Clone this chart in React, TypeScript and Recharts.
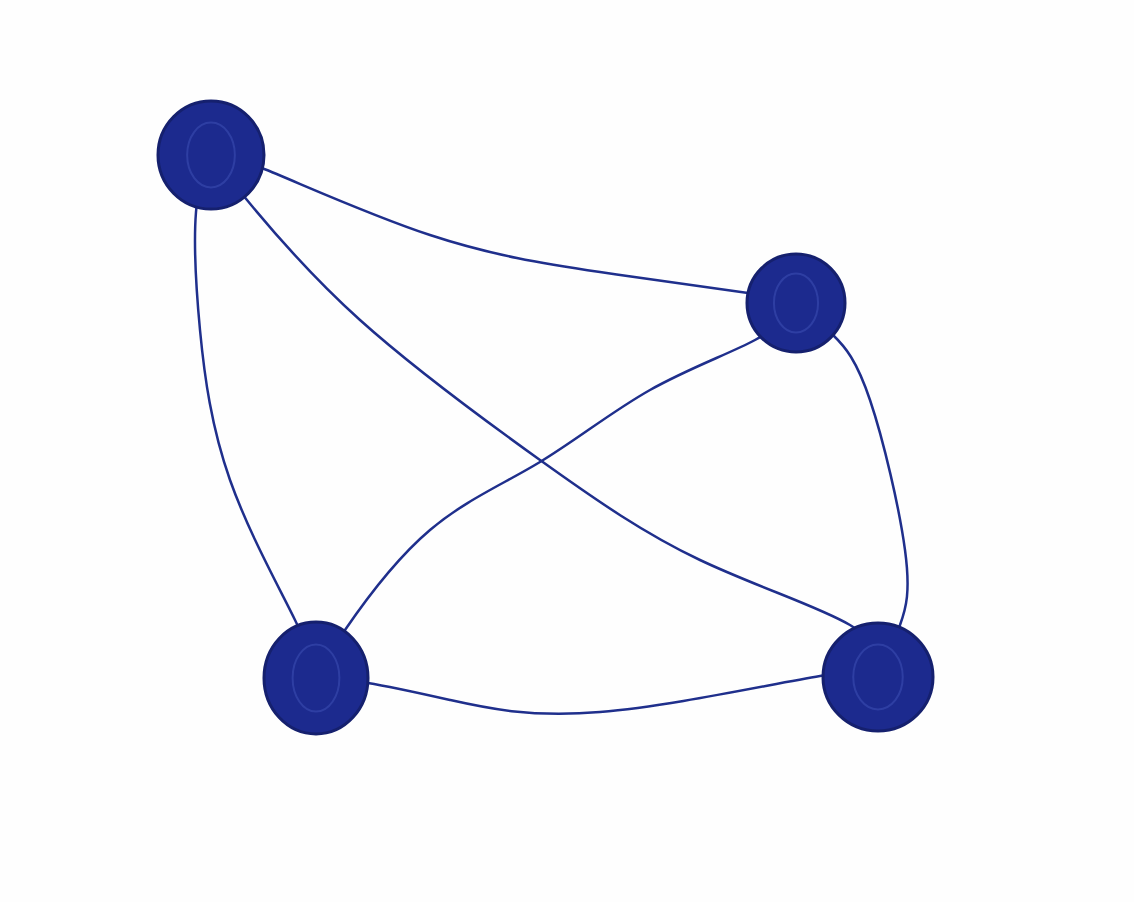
import React from 'react';
import { ComposedChart, Line, Scatter, XAxis, YAxis } from 'recharts';

const nodes = [
  { x: 211, y: 155, rx: 53, ry: 54 },
  { x: 796, y: 303, rx: 49, ry: 49 },
  { x: 316, y: 678, rx: 52, ry: 56 },
  { x: 878, y: 677, rx: 55, ry: 54 },
];

const edgeAB = [
  { x: 211, y: 155 }, { x: 262, y: 168 }, { x: 430, y: 235 }, { x: 600, y: 272 }, { x: 748, y: 293 }, { x: 796, y: 303 },
];
const edgeAC = [
  { x: 211, y: 155 }, { x: 196, y: 212 }, { x: 200, y: 330 }, { x: 230, y: 480 }, { x: 295, y: 620 }, { x: 316, y: 678 },
];
const edgeAD = [
  { x: 211, y: 155 }, { x: 247, y: 200 }, { x: 360, y: 320 }, { x: 540, y: 460 }, { x: 700, y: 560 }, { x: 850, y: 625 }, { x: 878, y: 677 },
];
const edgeBC = [
  { x: 796, y: 303 }, { x: 755, y: 340 }, { x: 650, y: 390 }, { x: 540, y: 462 }, { x: 430, y: 530 }, { x: 345, y: 630 }, { x: 316, y: 678 },
];
const edgeBD = [
  { x: 796, y: 303 }, { x: 833, y: 335 }, { x: 870, y: 400 }, { x: 905, y: 550 }, { x: 900, y: 625 }, { x: 878, y: 677 },
];
const edgeCD = [
  { x: 316, y: 678 }, { x: 368, y: 683 }, { x: 450, y: 700 }, { x: 600, y: 712 }, { x: 820, y: 676 }, { x: 878, y: 677 },
];

const edges = [edgeAB, edgeAC, edgeAD, edgeBC, edgeBD, edgeCD];

const ink = '#1f2f8c';

const NodeShape = (props: any) => {
  const { cx, cy, payload } = props;
  return (
    <g>
      <ellipse cx={cx} cy={cy} rx={payload.rx} ry={payload.ry} fill="#1c2a8e" stroke="#15206e" strokeWidth={3} />
      <ellipse cx={cx} cy={cy} rx={payload.rx * 0.45} ry={payload.ry * 0.6} fill="none" stroke="#3a4cb0" strokeWidth={2} opacity={0.6} />
    </g>
  );
};

export default function App() {
  return (
    <div style={{ position: 'absolute', left: 0, top: 0, width: 1134, height: 902, background: '#fefefe' }}>
      <ComposedChart width={1134} height={902} margin={{ top: 0, right: 0, bottom: 0, left: 0 }}>
        <XAxis type="number" dataKey="x" domain={[0, 1134]} hide />
        <YAxis type="number" dataKey="y" domain={[0, 902]} reversed hide />
        {edges.map((e, i) => (
          <Line
            key={i}
            data={e}
            dataKey="y"
            type="natural"
            stroke={ink}
            strokeWidth={2.5}
            dot={false}
            activeDot={false}
            isAnimationActive={false}
          />
        ))}
        <Scatter data={nodes} dataKey="y" shape={NodeShape} isAnimationActive={false} />
      </ComposedChart>
    </div>
  );
}
